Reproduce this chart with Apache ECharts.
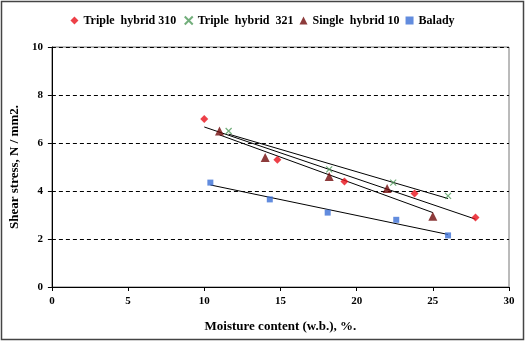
<!DOCTYPE html>
<html>
<head>
<meta charset="utf-8">
<script src="https://cdn.jsdelivr.net/npm/echarts@6/dist/echarts.min.js"></script>
<style>
  html, body { margin: 0; padding: 0; background: #fff; }
  #chart { width: 525px; height: 341px; }
</style>
</head>
<body>
<div id="chart"></div>
<script>
// Moisture content (x) and shear stress (y) for each variety
const th310X = [10.0, 14.8, 19.2, 23.8, 27.8];
const th310Y = [7.0, 5.3, 4.4, 3.9, 2.9];

const th321X = [11.6, 18.2, 22.4, 26.0];
const th321Y = [6.5, 4.9, 4.35, 3.8];

const sh10X = [11.0, 14.0, 18.2, 22.0, 25.0];
const sh10Y = [6.5, 5.4, 4.6, 4.1, 2.95];

const baladyX = [10.4, 14.3, 18.1, 22.6, 26.0];
const baladyY = [4.35, 3.65, 3.1, 2.8, 2.15];

const seriesNames = ['Triple  hybrid 310', 'Triple  hybrid  321', 'Single  hybrid 10', 'Balady'];
const xTicks = [0, 5, 10, 15, 20, 25, 30];
const yTicks = [0, 2, 4, 6, 8, 10];

const serif = '"Liberation Serif", "DejaVu Serif", serif';

function pairs(xs, ys) { return xs.map((x, i) => [x, ys[i]]); }

// Least-squares linear trend spanning the series' x range
function trend(xs, ys) {
  const n = xs.length;
  const mx = xs.reduce((a, b) => a + b, 0) / n;
  const my = ys.reduce((a, b) => a + b, 0) / n;
  let sxy = 0, sxx = 0;
  for (let i = 0; i < n; i++) { sxy += (xs[i] - mx) * (ys[i] - my); sxx += (xs[i] - mx) ** 2; }
  const b = sxy / sxx, a = my - b * mx;
  const x0 = Math.min(...xs), x1 = Math.max(...xs);
  return [[x0, a + b * x0], [x1, a + b * x1]];
}

function trendSeries(xs, ys) {
  return {
    type: 'line', name: 'trend', data: trend(xs, ys), symbol: 'none',
    lineStyle: { color: '#000', width: 1 }, silent: true, z: 1
  };
}

const chart = echarts.init(document.getElementById('chart'));
chart.setOption({
  animation: false,
  backgroundColor: '#fff',
  graphic: [{
    type: 'rect', shape: { x: 1.5, y: 1.5, width: 522, height: 338 },
    style: { fill: 'none', stroke: '#444', lineWidth: 1.5 }, silent: true
  }],
  legend: {
    data: seriesNames,
    top: 9, left: 'center',
    itemGap: 6, itemWidth: 8, itemHeight: 8,
    textStyle: { fontFamily: serif, fontWeight: 'bold', fontSize: 12, color: '#000' }
  },
  grid: {
    left: 50, right: 16, top: 47, bottom: 54,
    show: true, borderColor: '#777', borderWidth: 1
  },
  xAxis: {
    type: 'value', min: 0, max: 30, interval: 5,
    name: 'Moisture content (w.b.), %.',
    nameLocation: 'middle', nameGap: 33,
    nameTextStyle: { fontFamily: serif, fontWeight: 'bold', fontSize: 13, color: '#000' },
    axisLine: { show: true, lineStyle: { color: '#000', width: 1 } },
    axisTick: { show: true, length: 4, lineStyle: { color: '#000' } },
    axisLabel: { fontFamily: serif, fontWeight: 'bold', fontSize: 11, color: '#000', margin: 9,
      formatter: v => xTicks.includes(v) ? String(v) : '' },
    splitLine: { show: false }
  },
  yAxis: {
    type: 'value', min: 0, max: 10, interval: 2,
    name: 'Shear stress, N / mm2.',
    nameLocation: 'middle', nameGap: 28,
    nameTextStyle: { fontFamily: serif, fontWeight: 'bold', fontSize: 13, color: '#000' },
    axisLine: { show: true, lineStyle: { color: '#000', width: 1 } },
    axisTick: { show: true, length: 4, lineStyle: { color: '#000' } },
    axisLabel: { fontFamily: serif, fontWeight: 'bold', fontSize: 11, color: '#000', margin: 9,
      formatter: v => yTicks.includes(v) ? String(v) : '' },
    splitLine: { show: true, lineStyle: { color: '#000', type: [4, 3], width: 1 } }
  },
  series: [
    trendSeries(th310X, th310Y),
    trendSeries(th321X, th321Y),
    trendSeries(sh10X, sh10Y),
    trendSeries(baladyX, baladyY),
    {
      type: 'scatter', name: seriesNames[0], data: pairs(th310X, th310Y),
      symbol: 'diamond', symbolSize: 8, itemStyle: { color: '#e8101a' }, z: 3
    },
    {
      type: 'scatter', name: seriesNames[1], data: pairs(th321X, th321Y),
      symbol: 'path://M0,0 L10,10 M10,0 L0,10', symbolSize: 6,
      itemStyle: { color: 'none', borderColor: '#4f9a5a', borderWidth: 1.2 }, z: 3
    },
    {
      type: 'scatter', name: seriesNames[2], data: pairs(sh10X, sh10Y),
      symbol: 'triangle', symbolSize: 9, itemStyle: { color: '#700a0a' }, z: 3
    },
    {
      type: 'scatter', name: seriesNames[3], data: pairs(baladyX, baladyY),
      symbol: 'rect', symbolSize: 6, itemStyle: { color: '#3b6fd6' }, z: 3
    }
  ]
});
</script>
</body>
</html>
